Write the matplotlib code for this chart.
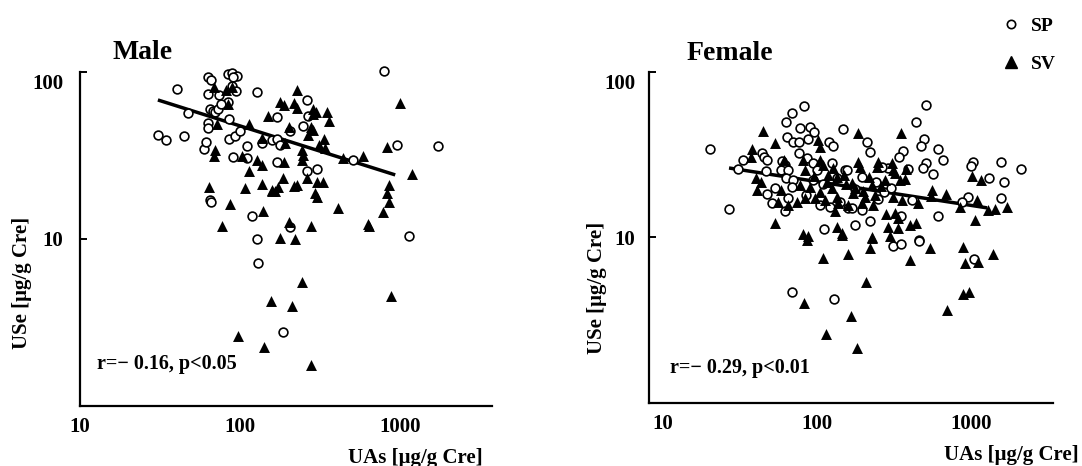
#!/usr/bin/env python3
"""Urinary Se vs urinary As, log-log scatter for male and female subjects."""
import matplotlib
matplotlib.use("Agg")
import matplotlib.pyplot as plt
from matplotlib.lines import Line2D
from matplotlib.ticker import FixedLocator, FixedFormatter, NullLocator
from matplotlib.transforms import ScaledTranslation

# ---- data -----------------------------------------------------------------
MALE_SP_X = [30.7, 34.5, 40.4, 44.7, 47.3, 59.6, 61.3, 63.1, 63.1, 66, 63.1, 63.1,
             64.9, 66, 73.9, 84.1, 89.1, 95.8, 90.4, 89.1, 94.4, 84.1, 64.9, 68,
             69.8, 73, 76, 128, 85.3, 85.3, 93, 100, 111, 90.4, 111, 119, 158, 170,
             794, 262, 170, 266, 248, 205, 170, 178, 958, 1728, 508, 262, 303, 205,
             1138, 128, 130, 186, 137]
MALE_SP_Y = [42.0, 39.2, 79.1, 41.4, 56.8, 34.6, 38.1, 73.8, 93.3, 90, 49.6, 46.3,
             17.1, 16.7, 72.8, 97.3, 98.6, 94.6, 93.3, 82.5, 77, 66.1, 60, 58.5,
             57.6, 60, 64.3, 75.9, 52.4, 39.7, 41.4, 44.4, 36.1, 31, 30.5, 13.7, 39.2, 28.9,
             101, 68, 53.8, 54.5, 47.6, 44.4, 39.7, 36.6, 36.6, 36.1, 29.7, 25.5, 26.2, 11.8,
             10.4, 10, 7.18, 2.77, 37.6]

MALE_SV_X = [68.8, 81.8, 89.1, 84.1, 71.8, 114, 150, 137, 69.8, 68.8, 103, 128, 137,
             114, 64, 107, 137, 158, 86.6, 139, 77.2, 227, 178, 188, 218, 227, 286,
             299, 286, 350, 360, 1000, 202, 278, 286, 266, 335, 312, 340, 191, 244,
             248, 244, 440, 587, 830, 188, 1189, 186, 173, 158, 166, 262, 227, 218,
             303, 330, 294, 303, 853, 830, 853, 783, 410, 631, 278, 202, 178, 221,
             640, 244, 879, 156, 211, 97.2, 141, 278]
MALE_SV_Y = [81.3, 78, 81.3, 64.3, 48.9, 48.9, 54.5, 40.3, 34.1, 31.4, 31.4, 29.7, 27.7,
             25.5, 20.5, 20.2, 21.3, 19.6, 16.2, 14.7, 12, 78, 66.1, 63.4, 65.2, 60.8, 60,
             57.6, 56.1, 57.6, 51, 65.2, 46.9, 46.9, 45, 42, 39.7, 36.6, 35.1, 37.6, 34.1,
             31.8, 29.7, 30.5, 31.4, 35.6, 28.9, 24.5, 23.2, 20.5, 19.4, 19.4, 23.2, 21, 20.7,
             21.9, 21.9, 18.8, 17.8, 21, 18.8, 16.7, 14.5, 15.3, 12.3, 12, 12.6, 10.1, 10,
             12, 5.53, 4.56, 4.26, 3.97, 2.62, 2.25, 1.76]

FEMALE_SP_X = [20.2, 26.8, 30.7, 33.0, 43.9, 45.3, 47.3, 46.6, 82.4, 68.8, 62.9, 77.6,
               90.1, 95.7, 63.9, 69.9, 76.4, 87.4, 147, 76.4, 59.3, 62.0, 58.4, 64.9,
               62.9, 69.9, 68.8, 86.1, 94.3, 100, 94.3, 120, 127, 125, 152, 53.4, 47.3,
               51, 64.9, 62, 104, 121, 111, 159, 510, 439, 495, 473, 362, 341, 611, 658,
               510, 488, 567, 1030, 1000, 1308, 1566, 2113, 1638, 957, 875, 1566, 611,
               211, 221, 157, 196, 289, 264, 390, 272, 414, 169, 196, 221, 351, 176, 460,
               312, 351, 460, 1045, 68.8, 129,
               110, 135, 175, 240, 85, 300, 140, 250]
FEMALE_SP_Y = [34.3, 14.9, 25.9, 29.4, 32.4, 30.6, 29.4, 25.2, 62.4, 56.5, 49.9, 45.9,
               46.5, 43.4, 40.5, 37.8, 37.8, 39.4, 45.3, 32.4, 29.0, 27.4, 25.6, 25.6,
               22.9, 22.3, 20.2, 30.2, 28.2, 25.6, 22.3, 37.8, 35.7, 28.2, 25.6, 19.9, 18.3,
               16.2, 17.3, 14.5, 15.7, 15.3, 11.3, 15.1, 63.2, 49.9, 39.4, 35.7, 33.3, 30.6,
               34.3, 29.4, 28.2, 26.3, 24.2, 28.6, 27, 22.9, 28.6, 25.9, 21.6, 17.6, 16.4,
               17.3, 13.5, 37.8, 32.9, 25.6, 23.2, 26.3, 26.7, 25.9, 18.8, 16.9, 15.1, 14.7,
               12.6, 13.5, 11.9, 9.66, 8.89, 9.14, 9.53, 7.41, 4.69, 4.25,
               21.0, 23.0, 19.5, 21.5, 18.0, 20.0, 16.5, 17.0]

FEMALE_SV_X = [44.6, 53.4, 37.8, 37.2, 40.2, 43.3, 40.7, 58.4, 61.1, 81.1, 83.6, 101,
               104, 104, 109, 127, 135, 77.6, 90.1, 116, 125, 55.8, 64.9, 74.2, 83.6,
               97.1, 113, 135, 137, 53.4, 81.1, 87.4, 135, 145, 185, 351, 185, 249, 245,
               307, 312, 378, 373, 169, 176, 218, 228, 276, 321, 346, 238, 205, 312, 356,
               453, 558, 550, 688, 849, 1093, 1015, 1161, 1289, 1431, 1713, 1061, 159,
               196, 321, 336, 289, 336, 402, 439, 228, 86.1, 145, 228, 298, 109, 159, 221,
               402, 542, 888, 1389, 915, 1110, 208, 82.4, 166, 114, 182, 699, 888, 971,
               150, 170, 260, 95, 118, 200, 130, 155, 190, 280, 105, 230]
FEMALE_SV_Y = [44.1, 37.2, 34.3, 30.6, 22.9, 21.6, 19.4, 19.4, 29.4, 29.4, 25.6, 38.8,
               35.2, 29.4, 27.4, 26.3, 23.2, 20.8, 20.2, 21.6, 19.9, 16.4, 15.7, 16.4, 17.3,
               17.3, 16.9, 17.6, 16.2, 12.3, 10.5, 10.2, 11.6, 10.6, 42.8, 42.8, 28.6, 28.6,
               26.7, 28.2, 25.6, 25.9, 22.6, 21.3, 19.9, 23.2, 20.8, 22.3, 24.5, 22.3, 18.1,
               17.6, 17.6, 16.9, 16.2, 19.4, 17.8, 18.3, 15.3, 16.9, 23.6, 22.3, 14.7, 14.9,
               15.3, 12.8, 15.7, 16.2, 14.1, 13.1, 11.6, 11.4, 11.9, 12.3, 10.1, 9.66, 10.4,
               9.93, 10.2, 7.52, 7.95, 8.65, 7.31, 8.65, 8.77, 8.0, 7.01, 7.11, 5.39, 4.02,
               3.36, 2.61, 2.15, 3.65, 4.56, 4.69, 24.0, 18.5, 20.5, 23.5, 24.0, 19.0,
               14.5, 21.0, 26.5, 13.8, 18.8, 15.8]

# regression line end points
MALE_FIT_X = [30.7, 934]
MALE_FIT_Y = [68, 24.2]
FEMALE_FIT_X = [26.8, 1270]
FEMALE_FIT_Y = [26.3, 15.1]

MALE_STAT = "r=\u2212 0.16, p<0.05"
FEMALE_STAT = "r=\u2212 0.29, p<0.01"
X_LABEL = "UAs [\u03bcg/g Cre]"
Y_LABEL = "USe [\u03bcg/g Cre]"

FONT = ["Liberation Serif", "DejaVu Serif"]
plt.rcParams["font.family"] = FONT
plt.rcParams["font.weight"] = "bold"


def draw_panel(fig, ax, title, sp, sv, fit, stat, xlim, pos):
    ax.plot(fit[0], fit[1], color="black", lw=2.5, zorder=1, solid_capstyle="butt")
    ax.scatter(sp[0], sp[1], s=40, facecolors="white", edgecolors="black",
               linewidths=1.2, marker="o", zorder=2, clip_on=False)
    ax.scatter(sv[0], sv[1], s=62, color="black", marker="^", linewidths=0, zorder=3,
               clip_on=False)

    ax.set_xscale("log")
    ax.set_yscale("log")
    ax.set_xlim(*xlim)
    ax.set_ylim(1, 100)
    for side in ("top", "right"):
        ax.spines[side].set_visible(False)
    for side in ("left", "bottom"):
        ax.spines[side].set_linewidth(1.6)

    ax.xaxis.set_major_locator(FixedLocator([10, 100, 1000]))
    ax.xaxis.set_major_formatter(FixedFormatter(["10", "100", "1000"]))
    ax.yaxis.set_major_locator(FixedLocator([10, 100]))
    ax.yaxis.set_major_formatter(FixedFormatter(["10", "100"]))
    ax.xaxis.set_minor_locator(NullLocator())
    ax.yaxis.set_minor_locator(NullLocator())
    ax.tick_params(axis="y", direction="in", length=5, width=1.4, pad=pos["ypad"],
                   labelsize=15)
    ax.tick_params(axis="x", direction="in", length=0, pad=8, labelsize=15)

    # top label sits a little below its tick in the original
    shift = ScaledTranslation(0, -0.1, fig.dpi_scale_trans)
    top = ax.yaxis.get_major_ticks()[1]
    top.label1.set_transform(top.label1.get_transform() + shift)

    ax.text(pos["title"][0], pos["title"][1], title, transform=ax.transAxes,
            fontsize=20, fontweight="bold", ha="center", va="center")
    ax.text(pos["stat"][0], pos["stat"][1], stat, transform=ax.transAxes,
            fontsize=14.5, fontweight="bold", ha="left", va="center")
    ax.text(pos["xlab"][0], pos["xlab"][1], X_LABEL, transform=ax.transAxes,
            fontsize=15, fontweight="bold", ha="center", va="center")
    ax.text(pos["ylab"][0], pos["ylab"][1], Y_LABEL, transform=ax.transAxes,
            fontsize=15, fontweight="bold", ha="center", va="center", rotation=90)


def main():
    fig = plt.figure(figsize=(10.82, 4.66), dpi=100)
    ax_m = fig.add_axes([0.0739, 0.1288, 0.3808, 0.7167])
    ax_f = fig.add_axes([0.5998, 0.1352, 0.3734, 0.7103])

    draw_panel(fig, ax_m, "Male", (MALE_SP_X, MALE_SP_Y), (MALE_SV_X, MALE_SV_Y),
               (MALE_FIT_X, MALE_FIT_Y), MALE_STAT, (10, 3760),
               {"title": (0.153, 1.057), "stat": (0.041, 0.126),
                "xlab": (0.813, -0.156), "ylab": (-0.141, 0.368), "ypad": 12})
    draw_panel(fig, ax_f, "Female", (FEMALE_SP_X, FEMALE_SP_Y),
               (FEMALE_SV_X, FEMALE_SV_Y), (FEMALE_FIT_X, FEMALE_FIT_Y),
               FEMALE_STAT, (8.1, 3400),
               {"title": (0.2, 1.057), "stat": (0.052, 0.106),
                "xlab": (0.896, -0.157), "ylab": (-0.129, 0.347), "ypad": 10})

    handles = [
        Line2D([], [], ls="none", marker="o", markersize=6, markerfacecolor="white",
               markeredgecolor="black", markeredgewidth=1.2),
        Line2D([], [], ls="none", marker="^", markersize=8, color="black"),
    ]
    fig.legend(handles, ["SP", "SV"], loc="upper left", bbox_to_anchor=(0.909, 1.0),
               frameon=False, prop={"family": FONT, "weight": "bold", "size": 14},
               handletextpad=0.55, labelspacing=1.05, handlelength=1.0)

    fig.savefig("out.png", dpi=100)


if __name__ == "__main__":
    main()
